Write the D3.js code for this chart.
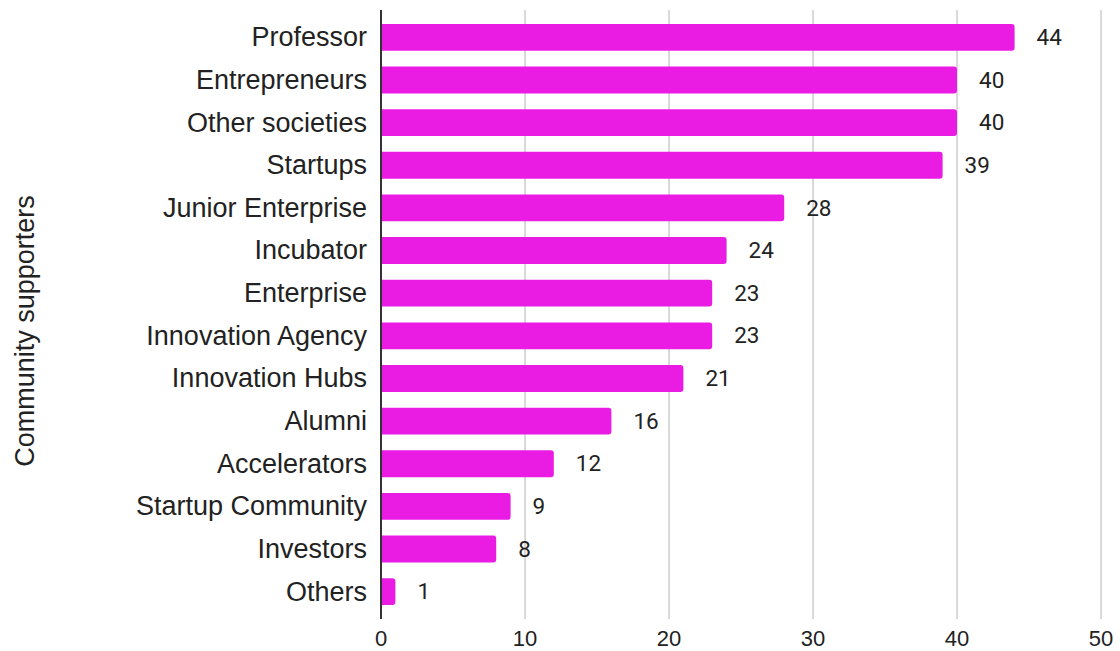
<!DOCTYPE html>
<html>
<head>
<meta charset="utf-8">
<script src="https://cdn.jsdelivr.net/npm/d3@7"></script>
<style>
  body { margin: 0; background: #fff; }
  text { font-family: "Liberation Sans", Arial, sans-serif; }
  text.value { font-family: Roboto, Arial, sans-serif; }
</style>
</head>
<body>
<div id="chart"></div>
<script>
var categories = ["Professor", "Entrepreneurs", "Other societies", "Startups", "Junior Enterprise",
    "Incubator", "Enterprise", "Innovation Agency", "Innovation Hubs", "Alumni",
    "Accelerators", "Startup Community", "Investors", "Others"];
var values = [44, 40, 40, 39, 28, 24, 23, 23, 21, 16, 12, 9, 8, 1];
var xTicks = [0, 10, 20, 30, 40, 50];

var width = 1120, height = 651;
var svg = d3.select("#chart").append("svg")
    .attr("width", width)
    .attr("height", height);

var x = d3.scaleLinear().domain([0, 50]).range([381, 1101]);
var y = d3.scaleBand().domain(categories).range([16, 613])
    .paddingInner(0.37).paddingOuter(0.185);

// gridlines
svg.selectAll("line.grid")
    .data(xTicks.slice(1))
    .enter().append("line")
    .attr("class", "grid")
    .attr("x1", function(d) { return x(d); })
    .attr("x2", function(d) { return x(d); })
    .attr("y1", 10)
    .attr("y2", 619)
    .attr("stroke", "#cccccc")
    .attr("stroke-width", 1.5);

// bars (rounded on the right end only)
var r = 3;
svg.selectAll("path.bar")
    .data(values)
    .enter().append("path")
    .attr("class", "bar")
    .attr("fill", "#ea1ce3")
    .attr("d", function(d, i) {
        var x0 = x(0), x1 = x(d), y0 = y(categories[i]), h = y.bandwidth();
        var rr = Math.min(r, (x1 - x0) / 2);
        return "M" + x0 + "," + y0 +
            "H" + (x1 - rr) +
            "Q" + x1 + "," + y0 + " " + x1 + "," + (y0 + rr) +
            "V" + (y0 + h - rr) +
            "Q" + x1 + "," + (y0 + h) + " " + (x1 - rr) + "," + (y0 + h) +
            "H" + x0 + "Z";
    });

// value labels
svg.selectAll("text.value")
    .data(values)
    .enter().append("text")
    .attr("class", "value")
    .attr("x", function(d) { return x(d) + 22; })
    .attr("y", function(d, i) { return y(categories[i]) + y.bandwidth() / 2; })
    .attr("dy", "0.34em")
    .attr("font-size", 22.5)
    .attr("fill", "#222")
    .text(function(d) { return d; });

// category labels
svg.selectAll("text.cat")
    .data(categories)
    .enter().append("text")
    .attr("class", "cat")
    .attr("x", 367)
    .attr("y", function(d) { return y(d) + y.bandwidth() / 2; })
    .attr("dy", "0.33em")
    .attr("text-anchor", "end")
    .attr("font-size", 27)
    .attr("fill", "#222")
    .text(function(d) { return d; });

// x tick labels
svg.selectAll("text.tick")
    .data(xTicks)
    .enter().append("text")
    .attr("class", "tick")
    .attr("x", function(d) { return x(d); })
    .attr("y", 646)
    .attr("text-anchor", "middle")
    .attr("font-size", 22)
    .attr("fill", "#222")
    .text(function(d) { return d; });

// baseline axis
svg.append("line")
    .attr("x1", x(0)).attr("x2", x(0))
    .attr("y1", 10).attr("y2", 619)
    .attr("stroke", "#333")
    .attr("stroke-width", 2);

// y axis title
svg.append("text")
    .attr("transform", "translate(24,331) rotate(-90)")
    .attr("text-anchor", "middle")
    .attr("dy", "0.36em")
    .attr("font-size", 27)
    .attr("fill", "#222")
    .text("Community supporters");
</script>
</body>
</html>
